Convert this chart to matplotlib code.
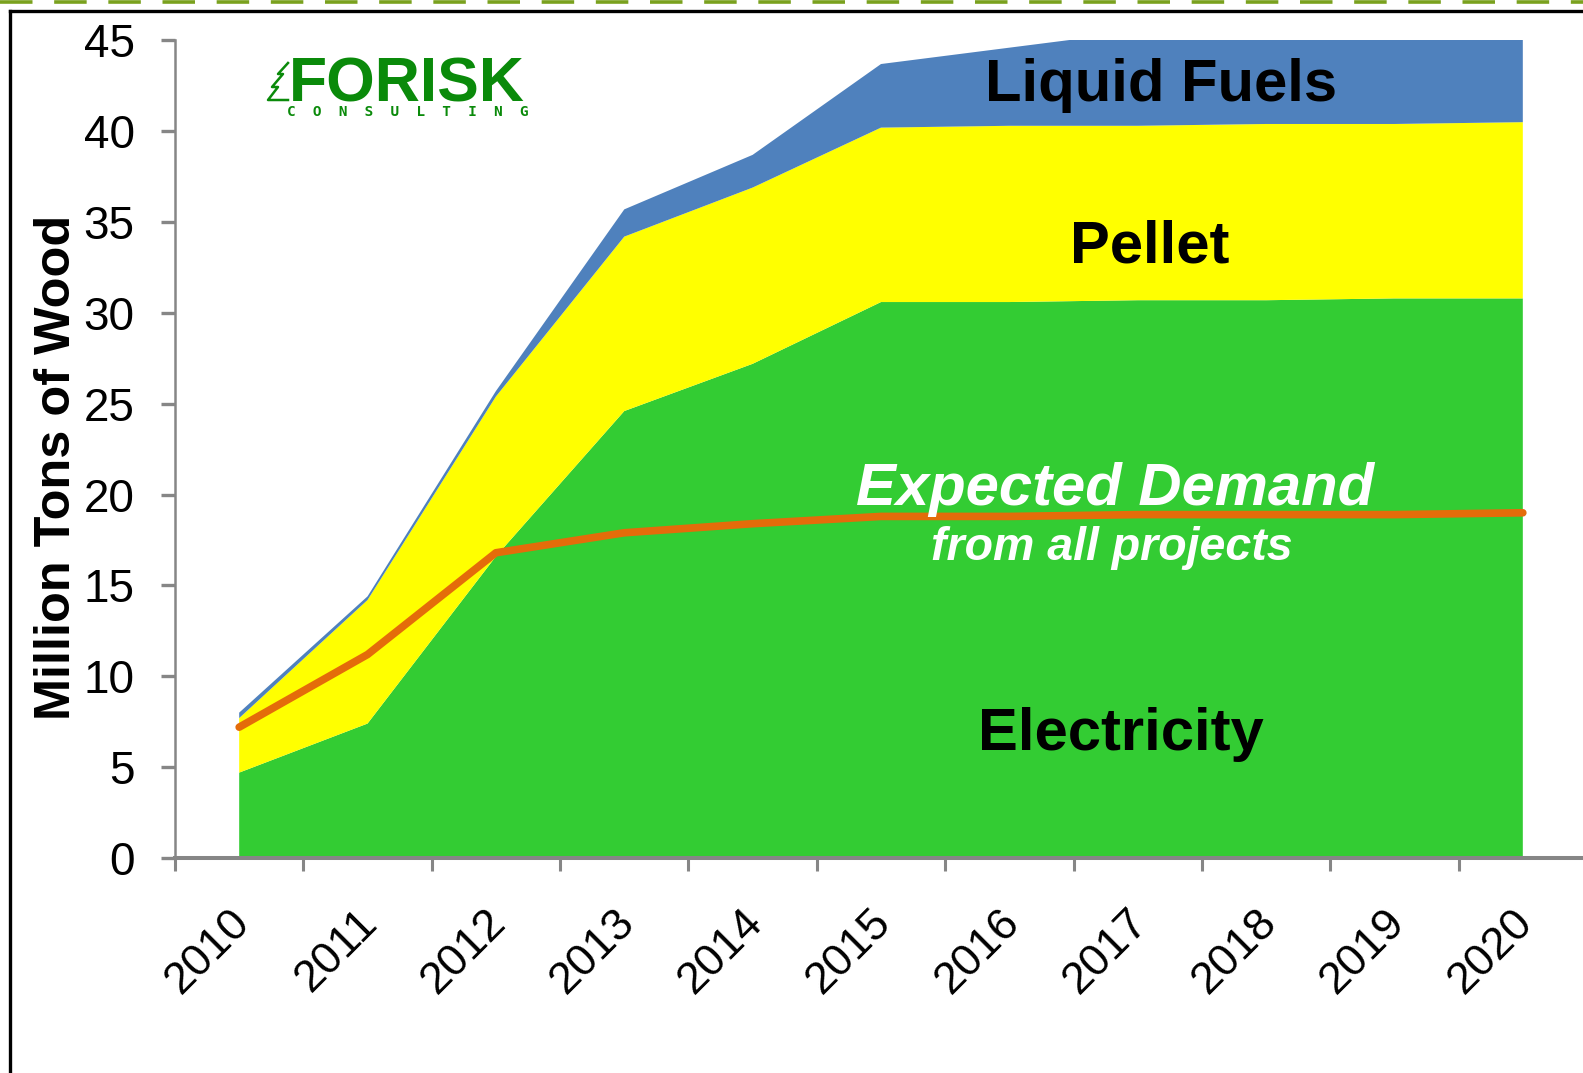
import matplotlib
matplotlib.use("Agg")
import matplotlib.pyplot as plt
from matplotlib.lines import Line2D
from matplotlib.transforms import ScaledTranslation
import numpy as np

# ---- data ----
years = ['2010', '2011', '2012', '2013', '2014', '2015', '2016', '2017', '2018', '2019', '2020']
electricity = [4.7, 7.4, 16.6, 24.6, 27.2, 30.6, 30.6, 30.7, 30.7, 30.8, 30.8]
pellet = [3.0, 6.8, 8.8, 9.6, 9.7, 9.6, 9.7, 9.6, 9.7, 9.6, 9.7]
liquid_fuels = [0.3, 0.2, 0.3, 1.5, 1.8, 3.5, 4.3, 5.2, 5.2, 5.3, 5.3]
expected_demand = [7.2, 11.2, 16.8, 17.9, 18.4, 18.8, 18.8, 18.9, 18.9, 18.9, 19.0]
y_ticks = [0, 5, 10, 15, 20, 25, 30, 35, 40, 45]

W, H = 1583, 1073
fig = plt.figure(figsize=(W / 100, H / 100), dpi=100)
fig.patch.set_facecolor('white')

def fx(px):
    return px / W

def fy(py):
    return 1 - py / H

left, right, top, bottom = 175, 1587, 40.4, 858
ax = fig.add_axes([fx(left), fy(bottom), fx(right - left), (bottom - top) / H])

x = np.arange(len(years))
ax.stackplot(x, electricity, pellet, liquid_fuels,
             colors=['#33CC33', '#FFFF00', '#4F81BD'], linewidth=0)
ax.plot(x, expected_demand, color='#E46C0A', linewidth=5.5,
        solid_capstyle='round', solid_joinstyle='round', zorder=5)

ax.set_xlim(-0.5, len(years) - 0.5)
ax.set_ylim(0, 45)

gray = '#868686'
for s in ['top', 'right']:
    ax.spines[s].set_visible(False)
ax.spines['left'].set_color(gray)
ax.spines['left'].set_linewidth(1.8)
ax.spines['bottom'].set_color(gray)
ax.spines['bottom'].set_linewidth(2.9)

ax.set_yticks(y_ticks)
ax.set_yticklabels([str(v) for v in y_ticks], fontsize=33, family='Liberation Sans')
ax.tick_params(axis='y', direction='out', length=10, width=2.4, color=gray, pad=19)

ax.set_xticks(np.arange(len(years)) - 0.5)
ax.set_xticklabels([])
ax.tick_params(axis='x', which='major', direction='out', length=9, width=2.2, color=gray)
ax.set_xticks(np.arange(len(years)), minor=True)
ax.set_xticklabels(years, minor=True, rotation=45, ha='right', va='center',
                   rotation_mode='anchor', fontsize=32.5, family='Liberation Sans')
ax.tick_params(axis='x', which='minor', length=0, pad=42)
for lab in ax.get_xticklabels(minor=True):
    lab.set_transform(lab.get_transform() + ScaledTranslation(0.04, 0, fig.dpi_scale_trans))

ax.set_ylabel('Million Tons of Wood', fontsize=36.3, fontweight='bold',
              family='Liberation Sans')
ax.yaxis.set_label_coords((80 - left) / (right - left), (bottom - 467) / (bottom - top))

# series labels
ax.text(7.18, 41.66, 'Liquid Fuels', fontsize=43, fontweight='bold',
        family='Liberation Sans', ha='center', va='baseline', zorder=6)
ax.text(7.09, 32.77, 'Pellet', fontsize=43, fontweight='bold',
        family='Liberation Sans', ha='center', va='baseline', zorder=6)
ax.text(6.87, 5.94, 'Electricity', fontsize=43, fontweight='bold',
        family='Liberation Sans', ha='center', va='baseline', zorder=6)
ax.text(6.82, 19.43, 'Expected Demand', fontsize=43, fontweight='bold',
        style='italic', family='Liberation Sans', color='white',
        ha='center', va='baseline', zorder=6)
ax.text(6.80, 16.4, 'from all projects', fontsize=33.5, fontweight='bold',
        style='italic', family='Liberation Sans', color='white',
        ha='center', va='baseline', zorder=6)

# logo
logo_green = '#0A8A0A'
fig.text(fx(289), fy(102), 'FORISK', fontsize=45, fontweight='bold',
         family='Liberation Sans', color=logo_green, ha='left', va='baseline')
fig.text(fx(408), fy(116), '  '.join('CONSULTING'), fontsize=10.4, fontweight='bold',
         family='DejaVu Sans Mono', color=logo_green, ha='center', va='baseline')
tree_x = [288, 278, 283, 272, 278, 268, 288]
tree_y = [63, 74, 74, 87, 87, 100, 100]
fig.add_artist(Line2D([fx(v) for v in tree_x], [fy(v) for v in tree_y],
                      color=logo_green, linewidth=1.8))

# frame / decorative borders
fig.add_artist(Line2D([0, 1], [fy(2), fy(2)], color='#7AA11E', linewidth=2.6,
                      dashes=(9, 6)))
fig.add_artist(Line2D([fx(10), 1], [fy(11), fy(11)], color='black', linewidth=2.4))
fig.add_artist(Line2D([fx(10), fx(10)], [fy(11), 0], color='black', linewidth=2.4))

fig.savefig('out.png', dpi=100, facecolor='white')
